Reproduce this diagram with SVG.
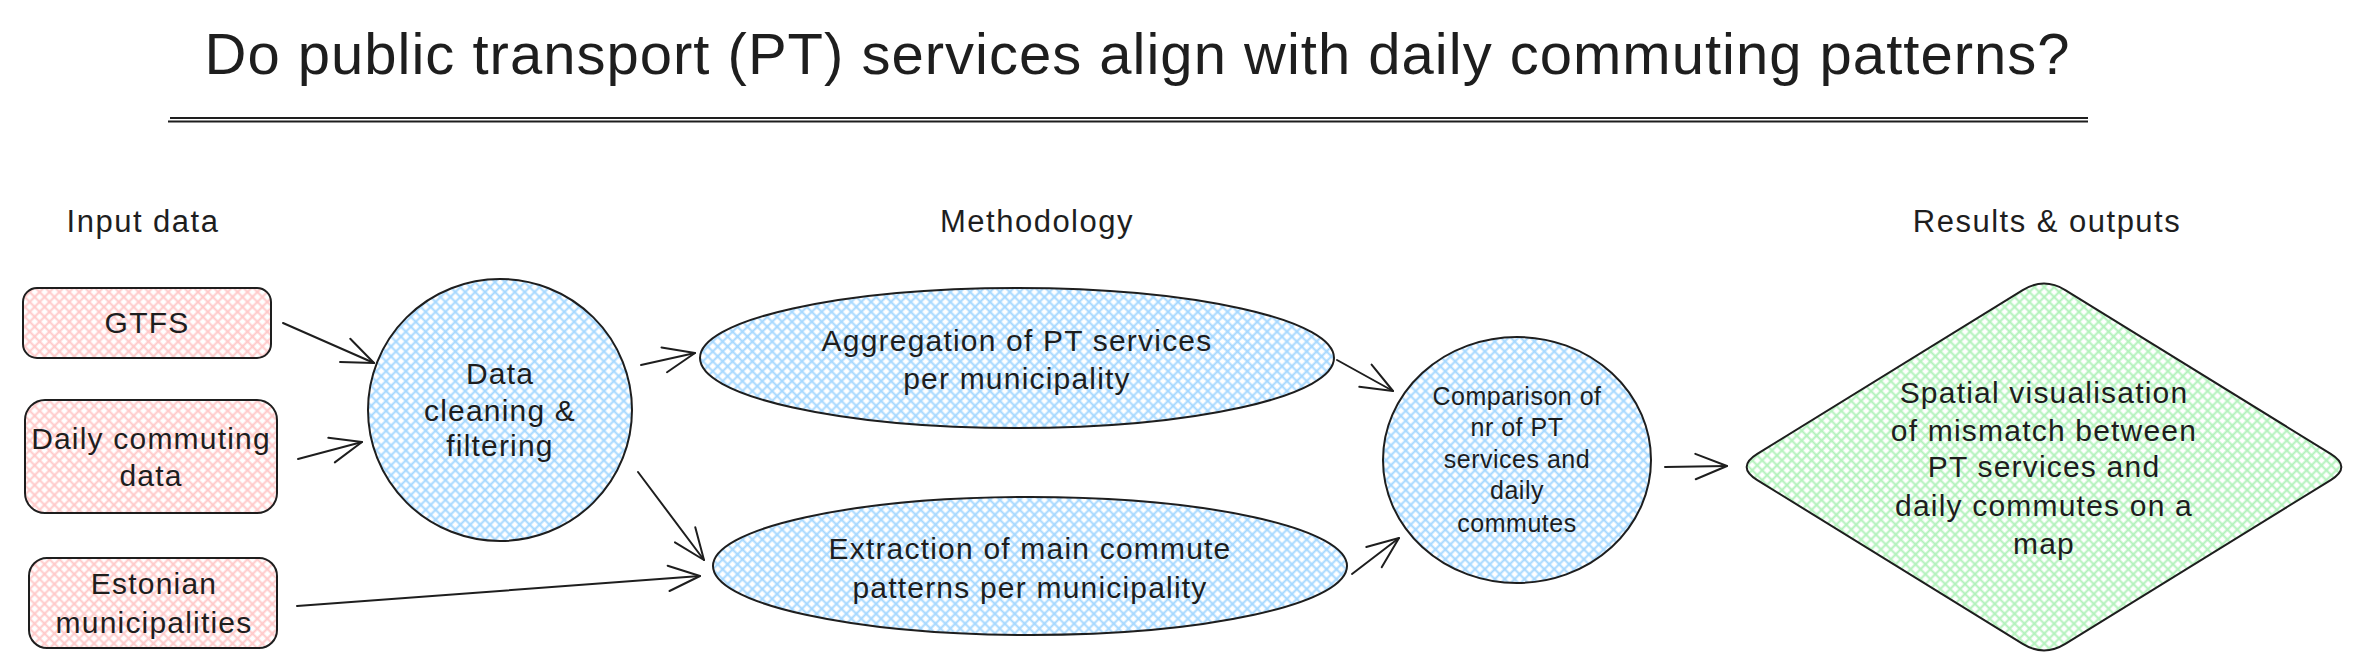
<svg xmlns="http://www.w3.org/2000/svg" width="2378" height="668" viewBox="0 0 2378 668">
<style>
.t{font-family:"Liberation Sans","DejaVu Sans",sans-serif;fill:#1e1e1e;text-anchor:middle}
.title{font-size:58px}
.sec{font-size:31px;letter-spacing:1.5px}
.n{font-size:30px;letter-spacing:1.2px}
.s{font-size:25px;letter-spacing:0.5px}
.shape{stroke:#1e1e1e;stroke-width:2;stroke-linejoin:round}
.pink{fill:url(#hpink)}
.blue{fill:url(#hblue)}
.green{fill:url(#hgreen)}
.conn line{stroke:#1e1e1e;stroke-width:2;fill:none;stroke-linecap:round;marker-end:url(#ah)}
</style>
<defs>
<pattern id="hpink" patternUnits="userSpaceOnUse" width="7" height="7" patternTransform="rotate(45)"><rect width="7" height="7" fill="#ffffff"/><path d="M0 3.5H7M3.5 0V7" stroke="#ffc9c9" stroke-width="2"/></pattern>
<pattern id="hblue" patternUnits="userSpaceOnUse" width="7" height="7" patternTransform="rotate(45)"><rect width="7" height="7" fill="#ffffff"/><path d="M0 3.5H7M3.5 0V7" stroke="#a5d8ff" stroke-width="2"/></pattern>
<pattern id="hgreen" patternUnits="userSpaceOnUse" width="7" height="7" patternTransform="rotate(45)"><rect width="7" height="7" fill="#ffffff"/><path d="M0 3.5H7M3.5 0V7" stroke="#b2f2bb" stroke-width="2"/></pattern>
<marker id="ah" markerUnits="userSpaceOnUse" viewBox="-36 -16 38 32" refX="0" refY="0" markerWidth="38" markerHeight="32" orient="auto" overflow="visible">
<path d="M-31.5 -12.7L0 0L-31.5 12.7" fill="none" stroke="#1e1e1e" stroke-width="2" stroke-linecap="round" stroke-linejoin="round"/>
</marker>
</defs>
<rect width="2378" height="668" fill="#ffffff"/>

<g id="title">
<text class="t title" x="1137" y="74" textLength="1865">Do public transport (PT) services align with daily commuting patterns?</text>
<line x1="170" y1="118" x2="2088" y2="118" stroke="#1e1e1e" stroke-width="2"/>
<line x1="168" y1="121.5" x2="2088" y2="121.5" stroke="#1e1e1e" stroke-width="2"/>
</g>

<g id="section-labels">
<text class="t sec" x="143" y="232">Input data</text>
<text class="t sec" x="1037" y="232">Methodology</text>
<text class="t sec" x="2047" y="232">Results &amp; outputs</text>
</g>

<g id="gtfs">
<rect class="shape pink" x="23" y="288" width="248" height="70" rx="14"/>
<text class="t n" x="147" y="333">GTFS</text>
</g>
<g id="daily-commuting">
<rect class="shape pink" x="25" y="400" width="252" height="113" rx="20"/>
<text class="t n" x="151" y="449">Daily commuting</text>
<text class="t n" x="151" y="486">data</text>
</g>
<g id="municipalities">
<rect class="shape pink" x="29" y="558" width="248" height="90" rx="18"/>
<text class="t n" x="154" y="594">Estonian</text>
<text class="t n" x="154" y="633">municipalities</text>
</g>
<g id="cleaning">
<ellipse class="shape blue" cx="500" cy="410" rx="132" ry="131"/>
<text class="t n" x="500" y="384">Data</text>
<text class="t n" x="500" y="421">cleaning &amp;</text>
<text class="t n" x="500" y="456">filtering</text>
</g>
<g id="aggregation">
<ellipse class="shape blue" cx="1017" cy="358" rx="317" ry="70"/>
<text class="t n" x="1017" y="351">Aggregation of PT services</text>
<text class="t n" x="1017" y="389">per municipality</text>
</g>
<g id="extraction">
<ellipse class="shape blue" cx="1030" cy="566" rx="317" ry="69"/>
<text class="t n" x="1030" y="559">Extraction of main commute</text>
<text class="t n" x="1030" y="598">patterns per municipality</text>
</g>
<g id="comparison">
<ellipse class="shape blue" cx="1517" cy="460" rx="134" ry="123"/>
<text class="t s" x="1517" y="405">Comparison of</text>
<text class="t s" x="1517" y="436">nr of PT</text>
<text class="t s" x="1517" y="468">services and</text>
<text class="t s" x="1517" y="499">daily</text>
<text class="t s" x="1517" y="532">commutes</text>
</g>
<g id="visualisation">
<path class="shape green" d="M2022.7 290.1Q2044 277 2065.3 290.1L2330.7 453.9Q2352 467 2330.7 480.1L2065.3 643.9Q2044 657 2022.7 643.9L1757.3 480.1Q1736 467 1757.3 453.9Z"/>
<text class="t n" x="2044" y="403">Spatial visualisation</text>
<text class="t n" x="2044" y="441">of mismatch between</text>
<text class="t n" x="2044" y="477">PT services and</text>
<text class="t n" x="2044" y="516">daily commutes on a</text>
<text class="t n" x="2044" y="554">map</text>
</g>

<g id="connectors" class="conn">
<line x1="283" y1="323" x2="374" y2="363"/>
<line x1="298" y1="459" x2="362" y2="442"/>
<line x1="297" y1="606" x2="700" y2="576"/>
<line x1="641" y1="365" x2="695" y2="353"/>
<line x1="638" y1="472" x2="704" y2="560"/>
<line x1="1337" y1="360" x2="1393" y2="391"/>
<line x1="1352" y1="574" x2="1399" y2="538"/>
<line x1="1665" y1="467" x2="1727" y2="466"/>
</g>
</svg>
